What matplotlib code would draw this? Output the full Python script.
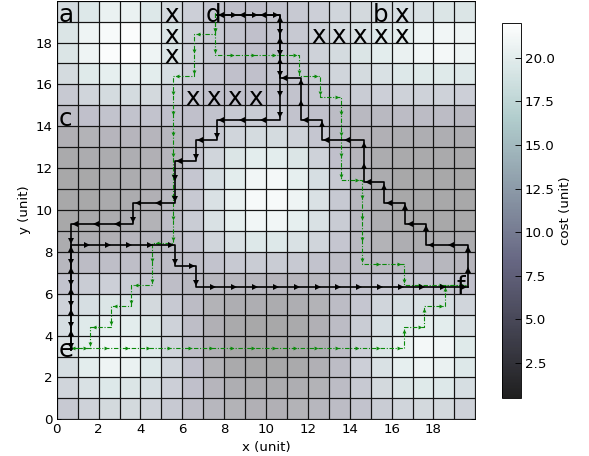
import matplotlib
matplotlib.use('Agg')  # headless
import matplotlib.pyplot as plt
import numpy as np

plt.rcParams['font.family'] = ['DejaVu Sans']
plt.rcParams['font.size'] = 12

# cost map, rows from the top (y=19) down to the bottom (y=0), columns x=0..19
cost_rows = [
    [13.4, 15.9, 18.3, 18.3, 15.9, 12.9, 11.0, 9.1, 7.9, 7.9, 8.4, 9.7, 11.0, 12.1, 12.9, 13.4, 14.0, 14.6, 15.3, 15.3],
    [15.3, 19.0, 20.7, 21.4, 19.0, 15.3, 11.6, 9.7, 8.4, 7.9, 8.4, 9.7, 11.6, 13.4, 14.6, 15.9, 17.1, 19.0, 19.6, 19.0],
    [15.3, 19.0, 21.4, 22.0, 19.0, 15.3, 11.6, 9.7, 8.4, 7.9, 8.4, 9.7, 11.6, 13.4, 15.3, 17.1, 18.3, 19.6, 20.1, 19.0],
    [13.4, 16.4, 17.7, 18.3, 17.1, 14.0, 11.0, 9.1, 7.9, 7.9, 8.4, 9.1, 10.3, 12.1, 13.4, 14.6, 15.9, 16.4, 16.4, 15.9],
    [9.7, 12.1, 13.4, 13.4, 12.9, 11.0, 9.1, 7.9, 7.9, 7.9, 7.9, 8.4, 9.1, 9.7, 10.3, 11.0, 11.6, 11.6, 11.6, 11.0],
    [6.7, 7.9, 8.4, 8.4, 8.4, 7.9, 7.9, 8.4, 9.7, 10.3, 9.7, 8.4, 7.9, 6.7, 6.0, 6.0, 6.7, 6.7, 6.7, 6.0],
    [3.6, 4.1, 4.9, 4.9, 4.9, 5.4, 7.3, 9.7, 12.1, 13.4, 13.4, 11.6, 9.1, 6.7, 4.9, 3.6, 3.0, 3.0, 3.0, 3.0],
    [1.7, 2.3, 2.3, 3.0, 3.6, 4.9, 8.4, 12.1, 15.3, 17.1, 17.1, 15.3, 11.6, 7.9, 4.9, 2.3, 1.7, 1.7, 1.7, 1.7],
    [1.1, 1.1, 1.7, 2.3, 3.6, 5.4, 9.1, 14.0, 17.1, 19.6, 20.1, 17.7, 14.0, 9.7, 5.4, 2.3, 1.1, 1.1, 1.1, 1.1],
    [1.1, 1.1, 1.7, 2.3, 3.6, 6.0, 9.7, 14.6, 18.3, 20.7, 20.7, 19.0, 14.6, 9.7, 5.4, 3.0, 1.1, 1.1, 1.1, 1.1],
    [1.1, 1.7, 2.3, 3.0, 4.1, 6.7, 10.3, 14.6, 17.7, 19.6, 19.6, 17.7, 14.6, 10.3, 6.0, 3.0, 1.7, 1.1, 1.1, 1.1],
    [2.3, 3.0, 3.6, 4.9, 5.4, 6.7, 9.1, 12.1, 14.6, 15.9, 15.9, 14.6, 12.1, 9.1, 6.0, 4.1, 3.0, 2.3, 2.3, 2.3],
    [5.4, 6.7, 7.3, 7.3, 6.7, 6.7, 7.3, 8.4, 9.7, 10.3, 10.3, 9.7, 8.4, 7.3, 6.7, 6.0, 6.0, 6.0, 5.4, 4.9],
    [8.4, 10.3, 11.0, 10.3, 9.1, 7.3, 6.0, 5.4, 5.4, 5.4, 4.9, 4.9, 5.4, 6.7, 7.9, 9.1, 9.7, 9.7, 9.1, 7.9],
    [11.6, 14.0, 15.3, 14.6, 12.9, 9.7, 6.7, 4.1, 3.0, 3.0, 2.3, 3.0, 4.1, 6.7, 9.1, 12.1, 14.0, 14.6, 14.0, 12.1],
    [14.0, 16.4, 17.7, 17.1, 15.3, 11.6, 7.3, 3.6, 1.7, 1.1, 1.1, 1.7, 3.6, 6.7, 10.3, 14.0, 17.1, 17.7, 17.1, 14.6],
    [14.6, 17.7, 19.6, 19.0, 16.4, 12.1, 7.3, 3.6, 1.1, 0.6, 0.6, 1.1, 3.0, 6.7, 11.0, 15.3, 18.3, 20.1, 19.6, 16.4],
    [14.0, 17.1, 19.0, 18.3, 15.9, 12.1, 7.9, 4.1, 1.7, 1.1, 1.1, 1.7, 3.6, 6.7, 11.0, 14.6, 17.7, 19.0, 18.3, 15.9],
    [12.1, 14.6, 15.9, 15.3, 14.0, 11.0, 7.9, 4.9, 3.0, 2.3, 2.3, 3.0, 4.1, 6.7, 9.7, 12.9, 15.3, 16.4, 15.9, 14.0],
    [9.7, 11.6, 12.9, 12.9, 11.6, 9.7, 7.3, 5.4, 4.1, 3.6, 3.6, 4.1, 5.4, 6.7, 8.4, 10.3, 12.1, 12.9, 12.9, 11.6],
]
cost_min, cost_max = 0.5, 22.0

# named waypoints (cell x, cell y)
label_names = ['a', 'b', 'c', 'd', 'e', 'f']
label_cells = [(0, 19), (15, 19), (0, 14), (7, 19), (0, 3), (19, 6)]

# blocked cells
obstacle_cells = [(5, 19), (5, 18), (5, 17), (6, 15), (7, 15), (8, 15), (9, 15),
                  (16, 19), (12, 18), (13, 18), (14, 18), (15, 18), (16, 18)]

# routes as corner cells
black_paths = [
    [(7, 19), (10, 19), (10, 14), (7, 14), (7, 13), (6, 13), (6, 12), (5, 12),
     (5, 10), (3, 10), (3, 9), (0, 9), (0, 3)],
    [(0, 3), (0, 8), (5, 8), (5, 7), (6, 7), (6, 6), (19, 6)],
    [(19, 6), (19, 8), (17, 8), (17, 9), (16, 9), (16, 10), (15, 10), (15, 11),
     (14, 11), (14, 13), (12, 13), (12, 14), (11, 14), (11, 16), (10, 16),
     (10, 19), (7, 19)],
]
green_paths = [
    [(7, 19), (7, 18), (6, 18), (6, 16), (5, 16), (5, 8), (4, 8), (4, 6), (3, 6),
     (3, 5), (2, 5), (2, 4), (1, 4), (1, 3), (0, 3)],
    [(0, 3), (16, 3), (16, 4), (17, 4), (17, 5), (18, 5), (18, 6), (19, 6)],
    [(7, 19), (7, 17), (11, 17), (11, 16), (12, 16), (12, 15), (13, 15), (13, 11),
     (14, 11), (14, 7), (16, 7), (16, 6), (19, 6)],
]

ARROWS = {(1, 0): '>', (-1, 0): '<', (0, 1): '^', (0, -1): 'v'}


def draw_path(ax, cells, dx, dy, color, ls, lw, ms, zorder):
    xs = [c[0] + dx for c in cells]
    ys = [c[1] + dy for c in cells]
    ax.plot(xs, ys, color=color, ls=ls, lw=lw, zorder=zorder)
    # one arrow head per grid step
    for (x0, y0), (x1, y1) in zip(cells[:-1], cells[1:]):
        sx, sy = int(np.sign(x1 - x0)), int(np.sign(y1 - y0))
        n = abs(x1 - x0) + abs(y1 - y0)
        k = np.arange(n) + 0.8
        ax.plot(x0 + dx + sx * k, y0 + dy + sy * k, ls='none',
                marker=ARROWS[(sx, sy)], color=color, ms=ms, mew=0,
                zorder=zorder)


fig = plt.figure(figsize=(589 / 80, 456 / 80), dpi=80)
ax = fig.add_axes([0.0963, 0.0805, 0.7107, 0.918])
cax = fig.add_axes([0.8528, 0.1272, 0.0312, 0.823])

cost = np.flipud(np.array(cost_rows))
norm = plt.Normalize(cost_min, cost_max)
ax.pcolormesh(np.arange(21), np.arange(21), cost, cmap='bone', norm=norm,
              alpha=0.35, edgecolors='none')
ax.hlines(np.arange(21), 0, 20, color='#151515', lw=1.1, zorder=2)
ax.vlines(np.arange(21), 0, 20, color='#151515', lw=1.1, zorder=2)

for p in green_paths:
    draw_path(ax, p, 0.57, 0.41, '#0a8a0a', (0, (4, 1.5, 1, 1.5)), 1.0, 3.5, 3)
for p in black_paths:
    draw_path(ax, p, 0.66, 0.32, 'black', '-', 1.5, 6, 4)

for name, (cx, cy) in zip(label_names, label_cells):
    ax.text(cx + 0.1, cy, name, fontsize=22, ha='left', va='baseline', zorder=5)
for cx, cy in obstacle_cells:
    ax.text(cx + 0.14, cy, 'x', fontsize=22, ha='left', va='baseline', zorder=5)

ax.set_xlim(0, 20)
ax.set_ylim(0, 20)
ax.set_xticks(np.arange(0, 20, 2))
ax.set_yticks(np.arange(0, 20, 2))
ax.tick_params(direction='in', top=True, right=True, length=4)
ax.set_xlabel('x (unit)')
ax.set_ylabel('y (unit)')

sm = matplotlib.cm.ScalarMappable(norm=norm, cmap='bone')
cb = fig.colorbar(sm, cax=cax, alpha=0.88, ticks=np.arange(2.5, 20.1, 2.5),
                  format='%.1f')
cb.ax.tick_params(direction='in', length=5)
cb.set_label('cost (unit)')

fig.savefig('out.png', dpi=80)
